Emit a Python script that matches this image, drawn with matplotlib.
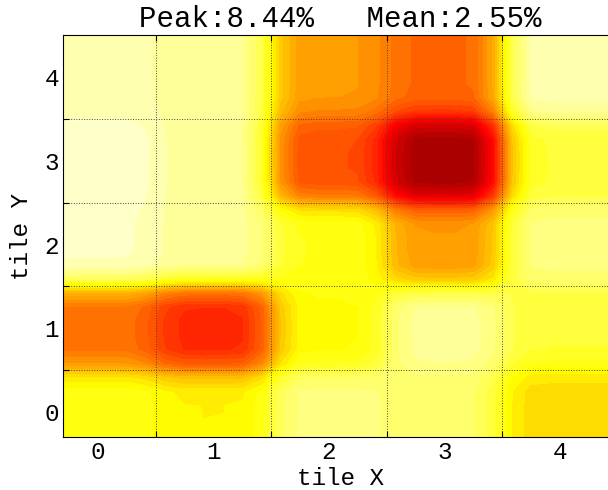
import numpy as np
import matplotlib
matplotlib.use("Agg")
import matplotlib.pyplot as plt

plt.rcParams['font.family'] = ['Liberation Mono', 'DejaVu Sans Mono']
plt.rcParams['font.size'] = 17.5

# Utilisation per tile (%), rows are tile Y = 0..4, columns tile X = 0..4
tile_x = [0, 1, 2, 3, 4]
tile_y = [0, 1, 2, 3, 4]
row_y0 = [2.52, 3.00, 1.40, 1.67, 3.42]
row_y1 = [5.10, 6.36, 2.79, 1.12, 2.23]
row_y2 = [0.70, 1.12, 2.52, 4.47, 1.40]
row_y3 = [0.56, 1.12, 5.72, 8.44, 2.23]
row_y4 = [0.90, 1.12, 4.47, 5.31, 0.84]
peak = 8.44
mean = 2.55

grid = np.array([row_y0, row_y1, row_y2, row_y3, row_y4])

# a few samples per tile, lightly smoothed across tile borders
n = 6
fine = np.kron(grid, np.ones((n, n)))
sigma = 0.8
r = 3
k = np.exp(-0.5 * (np.arange(-r, r + 1) / sigma) ** 2)
k /= k.sum()
padded = np.pad(fine, r, mode='edge')
padded = np.apply_along_axis(lambda v: np.convolve(v, k, mode='valid'), 1, padded)
smooth = np.apply_along_axis(lambda v: np.convolve(v, k, mode='valid'), 0, padded)

xs = -0.5 + (np.arange(fine.shape[1]) + 0.5) / n
ys = -0.5 + (np.arange(fine.shape[0]) + 0.5) / n
# stretch the outer samples to the tile edges
xs[0], xs[-1] = -0.5, 4.5
ys[0], ys[-1] = -0.5, 4.5

fig = plt.figure(figsize=(6.08, 4.9), dpi=100)
ax = fig.add_axes([0.104, 0.1076, 0.912, 0.821])

levels = np.linspace(0, 11, 45)
ax.contourf(xs, ys, smooth, levels=levels, cmap='hot_r', extend='both')

ax.set_xlim(-0.3, 4.5)
ax.set_ylim(-0.3, 4.5)

# tick marks and grid on tile borders, labels on tile centres
borders = [0.5, 1.5, 2.5, 3.5]
ax.set_xticks(borders)
ax.set_yticks(borders)
ax.set_xticklabels([])
ax.set_yticklabels([])
ax.set_xticks(tile_x, minor=True)
ax.set_yticks(tile_y, minor=True)
ax.set_xticklabels([str(v) for v in tile_x], minor=True)
ax.set_yticklabels([str(v) for v in tile_y], minor=True)
ax.tick_params(which='major', direction='in', length=4, width=0.8,
               top=True, right=True)
ax.tick_params(which='minor', length=0)
ax.tick_params(axis='x', which='minor', pad=3)
ax.tick_params(axis='y', which='minor', pad=3)
ax.grid(True, which='major', linestyle=':', color='#444444', linewidth=0.7)
ax.set_axisbelow(False)

ax.set_xlabel('tile X')
ax.xaxis.set_label_coords(0.5, -0.075)
ax.set_ylabel('tile Y', va='center')
ax.yaxis.set_label_coords(-0.076, 0.5)
ax.set_title('Peak:%.2f%%   Mean:%.2f%%' % (peak, mean), pad=6)

fig.savefig('out.png', dpi=100)
